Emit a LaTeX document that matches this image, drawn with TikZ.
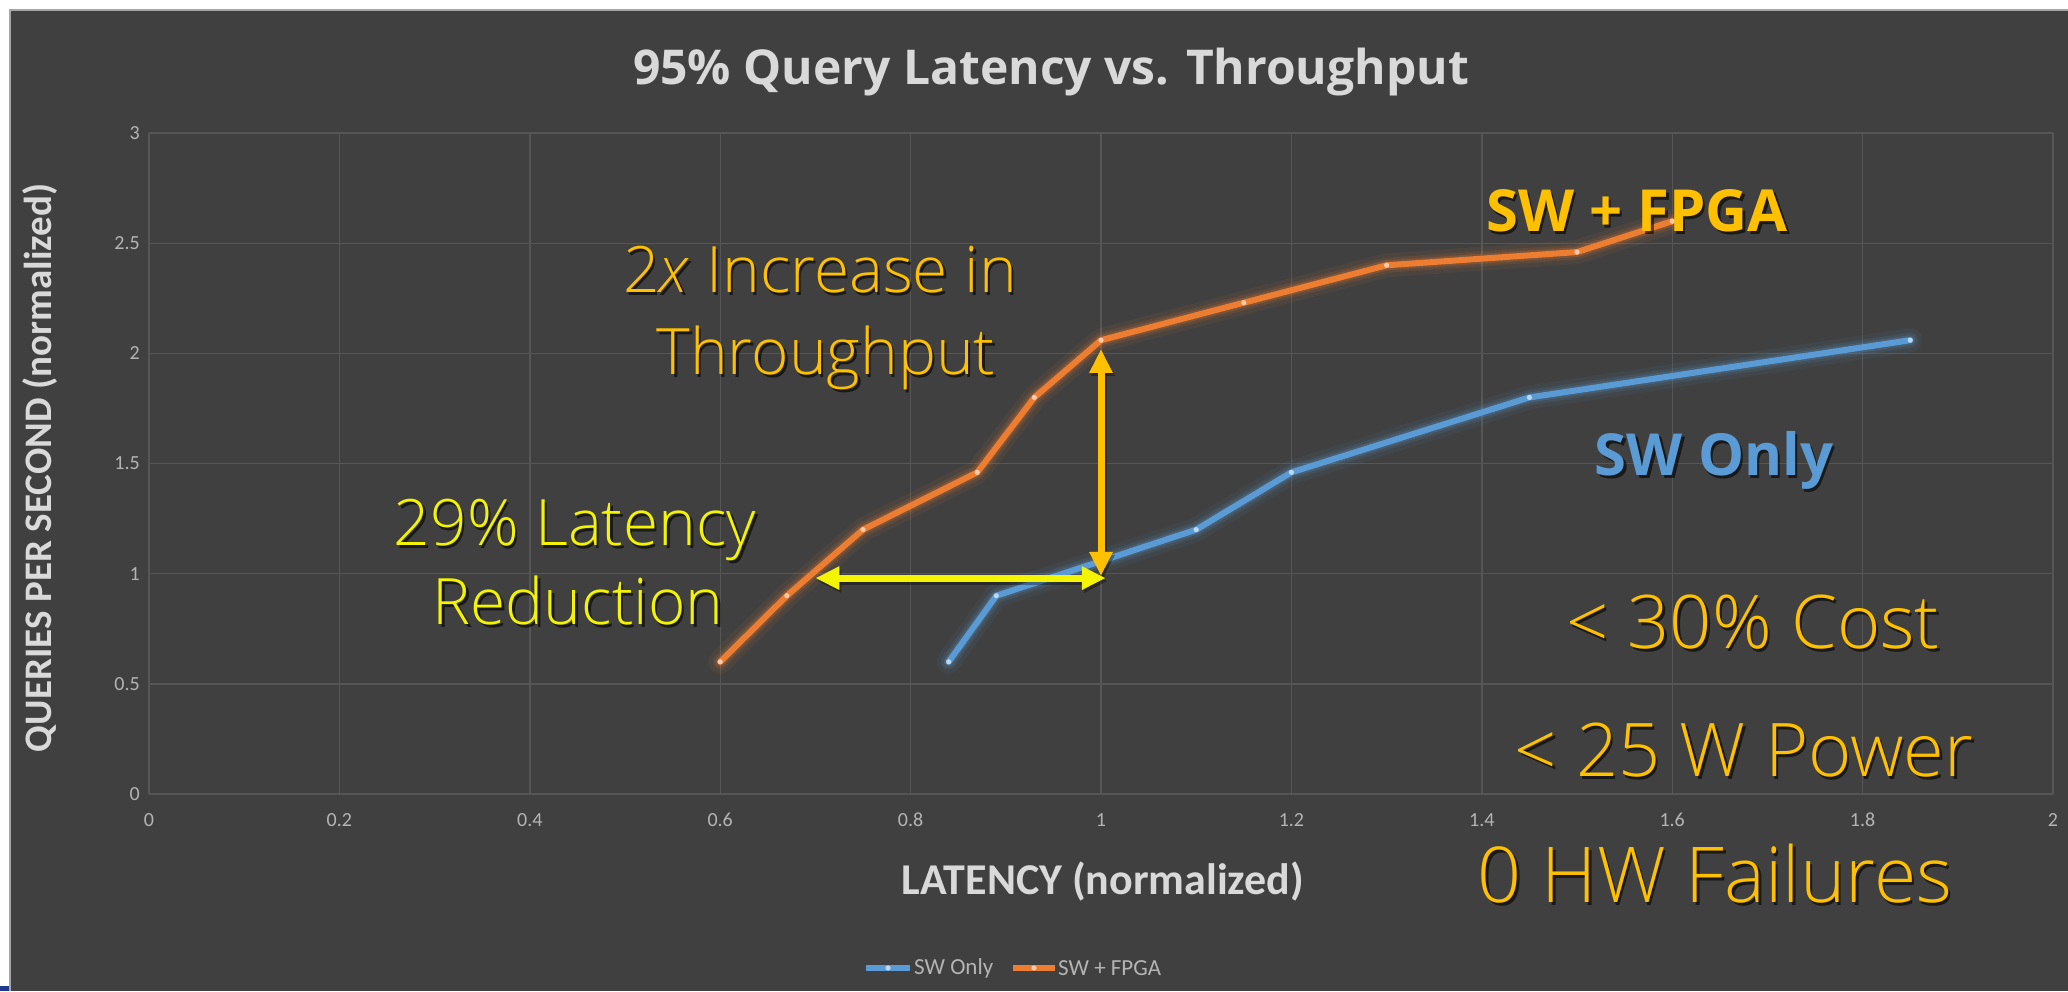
\documentclass[tikz,border=0pt]{standalone}
\usepackage{fontspec}
\usetikzlibrary{arrows.meta,calc}
\setmainfont{Open Sans}
\newfontfamily\calfont{Carlito}
\IfFontExistsTF{Open Sans Light}
  {\newfontfamily\lightfont{Open Sans Light}}
  {\newfontfamily\lightfont{Open Sans}}

\definecolor{bg}{HTML}{404040}
\definecolor{gridc}{HTML}{565656}
\definecolor{tickc}{HTML}{B4B4B4}
\definecolor{labc}{HTML}{D9D9D9}
\definecolor{fpga}{HTML}{ED7D31}
\definecolor{fpgadot}{HTML}{F8CBAD}
\definecolor{sw}{HTML}{5B9BD5}
\definecolor{swdot}{HTML}{BDD7EE}
\definecolor{amber}{HTML}{FFC000}
\definecolor{brightyellow}{HTML}{F4F400}
\definecolor{navy}{HTML}{1F3A8A}

% text with a soft dark drop shadow: name, position, style, text
\newcommand\shadownode[4]{%
  \node[#3, text=black, text opacity=0.6, xshift=2.5pt, yshift=-3pt] (#1s) at #2 {#4};
  \node[#3] (#1) at #2 {#4};}

\begin{document}
\begin{tikzpicture}[x=1pt, y=1pt,
    gridline/.style={gridc, line width=1.4pt},
    ticklab/.style={font=\calfont\fontsize{20}{22}\selectfont, text=tickc, inner sep=0},
    axislab/.style={font=\calfont\bfseries\fontsize{39}{44}\selectfont, text=labc, inner sep=0},
    titlelab/.style={font=\bfseries\fontsize{48}{52}\selectfont, text=labc, inner sep=0},
    legendlab/.style={font=\calfont\fontsize{23}{25}\selectfont, text=tickc, anchor=west, inner sep=0},
    anno/.style={font=\lightfont\fontsize{64}{70}\selectfont, anchor=base, inner sep=0},
    bigfact/.style={font=\lightfont\fontsize{74}{80}\selectfont, anchor=base, inner sep=0, text=amber},
    serieslab/.style={font=\bfseries\fontsize{58}{62}\selectfont, anchor=base, inner sep=0},
    glow/.style={line width=#1, line join=round, line cap=round},
    fpgaline/.style={fpga, line width=6pt, line join=round, line cap=round},
    swline/.style={sw, line width=6pt, line join=round, line cap=round},
    arrowline/.style={line width=7pt, {Triangle[length=24pt,width=22pt]}-{Triangle[length=24pt,width=22pt]}}
  ]
  \useasboundingbox (0,0) rectangle (2068,991);
  % page and chart background
  \fill[white] (0,0) rectangle (2068,991);
  \fill[bg] (10,0) rectangle (2068,981);
  \draw[line width=1.5pt, black!35] (10,0) -- (10,981) -- (2068,981);
  \fill[navy] (0,0) rectangle (9,5);

  % title and axis titles
  \node[titlelab] (title) at (1051,919) {95\% Query Latency vs. Throughput};
  \node[axislab, rotate=90] (ylab) at (40,523) {QUERIES PER SECOND (normalized)};
  \node[axislab, font=\calfont\bfseries\fontsize{44}{48}\selectfont] (xlab) at (1103,110) {LATENCY (normalized)};

  \begin{scope}[shift={(149,197)}, x=952pt, y=220.3pt]
    % grid
    \foreach \k in {0,...,10}
      \draw[gridline] (\k*0.2,0) -- (\k*0.2,3);
    \foreach \k in {0,...,6}
      \draw[gridline] (0,\k*0.5) -- (2,\k*0.5);
    % tick labels
    \foreach \v [count=\k] in {0,0.2,0.4,0.6,0.8,1,1.2,1.4,1.6,1.8,2}
      \node[ticklab] (xt\k) at (\v,0) [yshift=-26pt] {\v};
    \foreach \v [count=\k] in {0,0.5,1,1.5,2,2.5,3}
      \node[ticklab, anchor=east] (yt\k) at (0,\v) [xshift=-9pt] {\v};

    % SW only series
    \foreach \w/\o in {24pt/0.07,15pt/0.12,10pt/0.2}
      \draw[sw, glow=\w, opacity=\o] plot coordinates
        {(0.84,0.6) (0.89,0.9) (1.1,1.2) (1.2,1.46) (1.45,1.8) (1.85,2.06)};
    \draw[swline] plot coordinates
        {(0.84,0.6) (0.89,0.9) (1.1,1.2) (1.2,1.46) (1.45,1.8) (1.85,2.06)};
    \foreach \p in {(0.84,0.6),(0.89,0.9),(1.1,1.2),(1.2,1.46),(1.45,1.8),(1.85,2.06)}
      \fill[swdot] \p circle (2.6pt);

    % SW + FPGA series
    \foreach \w/\o in {24pt/0.07,15pt/0.12,10pt/0.2}
      \draw[fpga, glow=\w, opacity=\o] plot coordinates
        {(0.6,0.6) (0.67,0.9) (0.75,1.2) (0.87,1.46) (0.93,1.8) (1.0,2.06) (1.15,2.23) (1.3,2.4) (1.5,2.46) (1.6,2.6)};
    \draw[fpgaline] plot coordinates
        {(0.6,0.6) (0.67,0.9) (0.75,1.2) (0.87,1.46) (0.93,1.8) (1.0,2.06) (1.15,2.23) (1.3,2.4) (1.5,2.46) (1.6,2.6)};
    \foreach \p in {(0.6,0.6),(0.67,0.9),(0.75,1.2),(0.87,1.46),(0.93,1.8),(1.0,2.06),(1.15,2.23),(1.3,2.4),(1.5,2.46),(1.6,2.6)}
      \fill[fpgadot] \p circle (2.6pt);

    % annotation arrows
    \coordinate (vtop) at (1.0,2.02);
    \coordinate (vbot) at (1.0,0.99);
    \coordinate (hleft) at (0.70,0.98);
    \coordinate (hright) at (1.005,0.98);
    \draw[arrowline, black, opacity=0.35] ([shift={(2pt,-3pt)}]vbot) -- ([shift={(2pt,-3pt)}]vtop);
    \draw[arrowline, amber] (vbot) -- (vtop);
    \draw[arrowline, black, opacity=0.35] ([shift={(2pt,-3pt)}]hleft) -- ([shift={(2pt,-3pt)}]hright);
    \draw[arrowline, brightyellow] (hleft) -- (hright);
  \end{scope}

  % series labels
  \shadownode{lfpga}{(1637,759)}{serieslab, text=amber}{SW + FPGA}
  \shadownode{lsw}{(1714,515)}{serieslab, text=sw}{SW Only}

  % annotations
  \shadownode{thr1}{(820,698)}{anno, text=amber}{2\textit{x} Increase in}
  \shadownode{thr2}{(826,616)}{anno, text=amber}{Throughput}
  \shadownode{lat1}{(575,445)}{anno, text=brightyellow}{29\% Latency}
  \shadownode{lat2}{(578,366)}{anno, text=brightyellow}{Reduction}

  \shadownode{cost}{(1753,342)}{bigfact}{< 30\% Cost}
  \shadownode{power}{(1744,215)}{bigfact}{< 25 W Power}
  \shadownode{fail}{(1715,89)}{bigfact, font=\lightfont\fontsize{77}{80}\selectfont}{0 HW Failures}

  % legend
  \coordinate (lg1a) at (866,23); \coordinate (lg1b) at (910,23);
  \coordinate (lg2a) at (1013,23); \coordinate (lg2b) at (1055,23);
  \draw[swline, line cap=butt] (lg1a) -- (lg1b);
  \fill[swdot] ($(lg1a)!0.5!(lg1b)$) circle (2.6pt);
  \node[legendlab] (leg1) at (914,23) {SW Only};
  \draw[fpgaline, line cap=butt] (lg2a) -- (lg2b);
  \fill[fpgadot] ($(lg2a)!0.5!(lg2b)$) circle (2.6pt);
  \node[legendlab] (leg2) at (1058,23) {SW + FPGA};
\end{tikzpicture}
\end{document}
